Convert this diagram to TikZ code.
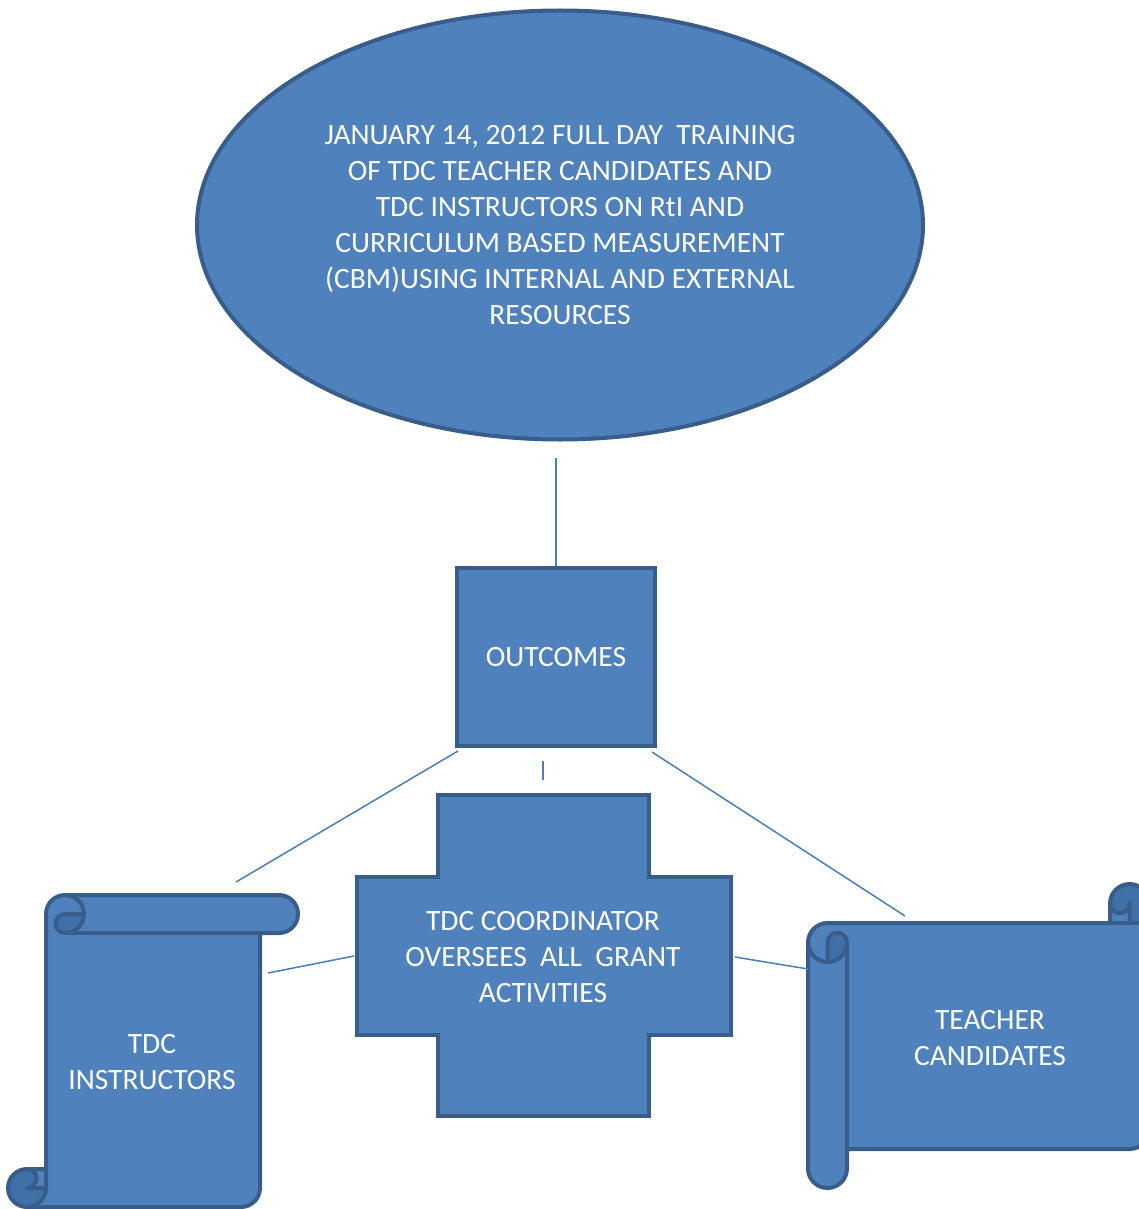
\documentclass[tikz,border=0pt]{standalone}
\usepackage{fontspec}
\setmainfont{Carlito}
\usetikzlibrary{shapes.geometric}
\definecolor{bfill}{HTML}{4F81BD}
\definecolor{bline}{HTML}{385D8A}
\definecolor{bdark}{HTML}{4170A8}
\definecolor{cline}{HTML}{4A7EBB}
\begin{document}
\begin{tikzpicture}[x=1pt,y=-1pt,
  blueshape/.style={fill=bfill, draw=bline, line width=4pt},
  outline/.style={draw=bline, line width=4pt, line join=round},
  lbl/.style={text=white, font=\fontsize{29.5}{36}\selectfont, align=center},
  connector/.style={draw=cline, line width=1.5pt}]
\useasboundingbox (0,0) rectangle (1139,1209);
\clip (0,0) rectangle (1139,1209);

% top ellipse
\node[blueshape, ellipse, minimum width=726pt, minimum height=429pt, inner sep=0pt, lbl] (event) at (560,225)
 {JANUARY 14, 2012 FULL DAY\ \ TRAINING\\OF TDC TEACHER CANDIDATES AND\\TDC INSTRUCTORS ON RtI AND\\CURRICULUM BASED MEASUREMENT\\(CBM)USING INTERNAL AND EXTERNAL\\RESOURCES};

% outcomes box
\node[blueshape, rectangle, minimum width=198pt, minimum height=178pt, lbl] (outcomes) at (556,657) {OUTCOMES};

% cross
\filldraw[blueshape] (438,795) -- (649,795) -- (649,877) -- (731,877) -- (731,1035) -- (649,1035)
  -- (649,1116) -- (438,1116) -- (438,1035) -- (357,1035) -- (357,877) -- (438,877) -- cycle;
\node[lbl] (coord) at (543,957) {TDC COORDINATOR\\OVERSEES\ \ ALL\ \ GRANT\\ACTIVITIES};

% left vertical scroll
\fill[bfill] (46,1169) -- (46,914) arc[start angle=180,end angle=270,radius=19] -- (279,895)
  arc[start angle=270,end angle=450,radius=19] -- (260,933) -- (260,1188)
  arc[start angle=0,end angle=90,radius=19] -- (27,1207) arc[start angle=90,end angle=270,radius=19] -- cycle;
\fill[bdark] (84,914) arc[start angle=0,end angle=90,radius=19] arc[start angle=90,end angle=270,radius=9.5] -- cycle;
\fill[bdark] (46,1188) arc[start angle=0,end angle=270,radius=19] arc[start angle=270,end angle=450,radius=9.5] -- cycle;
\draw[outline] (46,1169) -- (46,914) arc[start angle=180,end angle=270,radius=19] -- (279,895)
  arc[start angle=270,end angle=450,radius=19] -- (260,933) -- (260,1188)
  arc[start angle=0,end angle=90,radius=19] -- (27,1207) arc[start angle=90,end angle=270,radius=19] -- cycle;
\draw[outline] (65,895) arc[start angle=270,end angle=450,radius=19] arc[start angle=90,end angle=270,radius=9.5] -- (84,914);
\draw[outline] (260,933) -- (65,933);
\draw[outline] (27,1169) arc[start angle=270,end angle=450,radius=9.5] -- (46,1188);
\draw[outline] (27,1207) arc[start angle=90,end angle=0,radius=19] -- (46,1169);
\node[lbl] (instr) at (152,1062) {TDC\\INSTRUCTORS};

% right horizontal scroll
\fill[bfill] (808,942.5) arc[start angle=180,end angle=270,radius=19.5] -- (1110,923) -- (1110,903.5)
  arc[start angle=180,end angle=360,radius=19.5] -- (1149,1129.5) arc[start angle=0,end angle=90,radius=19.5]
  -- (847,1149) -- (847,1168.5) arc[start angle=0,end angle=180,radius=19.5] -- cycle;
\fill[bdark] (1110,903.5) arc[start angle=180,end angle=450,radius=19.5] -- (1129.5,903.5)
  arc[start angle=0,end angle=180,radius=9.75] -- cycle;
\fill[bdark] (827.5,962) arc[start angle=90,end angle=0,radius=19.5] arc[start angle=0,end angle=-180,radius=9.75] -- cycle;
\draw[outline] (808,942.5) arc[start angle=180,end angle=270,radius=19.5] -- (1110,923) -- (1110,903.5)
  arc[start angle=180,end angle=360,radius=19.5] -- (1149,1129.5) arc[start angle=0,end angle=90,radius=19.5]
  -- (847,1149) -- (847,1168.5) arc[start angle=0,end angle=180,radius=19.5] -- cycle;
\draw[outline] (1129.5,923) -- (1129.5,903.5) arc[start angle=0,end angle=180,radius=9.75];
\draw[outline] (1110,923) -- (1149,923);
\draw[outline] (808,942.5) arc[start angle=180,end angle=0,radius=19.5] arc[start angle=0,end angle=-180,radius=9.75] -- (827.5,962);
\draw[outline] (847,942.5) -- (847,1149);
\node[lbl] (cand) at (990,1038) {TEACHER\\CANDIDATES};

% connectors
\coordinate (a1) at (556,458); \coordinate (a2) at (556,566);
\coordinate (b1) at (543,761); \coordinate (b2) at (543,780);
\coordinate (c1) at (458,751); \coordinate (c2) at (236,882);
\coordinate (d1) at (652,752); \coordinate (d2) at (905,916);
\coordinate (e1) at (268,973); \coordinate (e2) at (354,956);
\coordinate (f1) at (735,957); \coordinate (f2) at (808,969);
\draw[connector] (a1) -- (a2);
\draw[connector] (b1) -- (b2);
\draw[connector] (c1) -- (c2);
\draw[connector] (d1) -- (d2);
\draw[connector] (e1) -- (e2);
\draw[connector] (f1) -- (f2);
\end{tikzpicture}
\end{document}
